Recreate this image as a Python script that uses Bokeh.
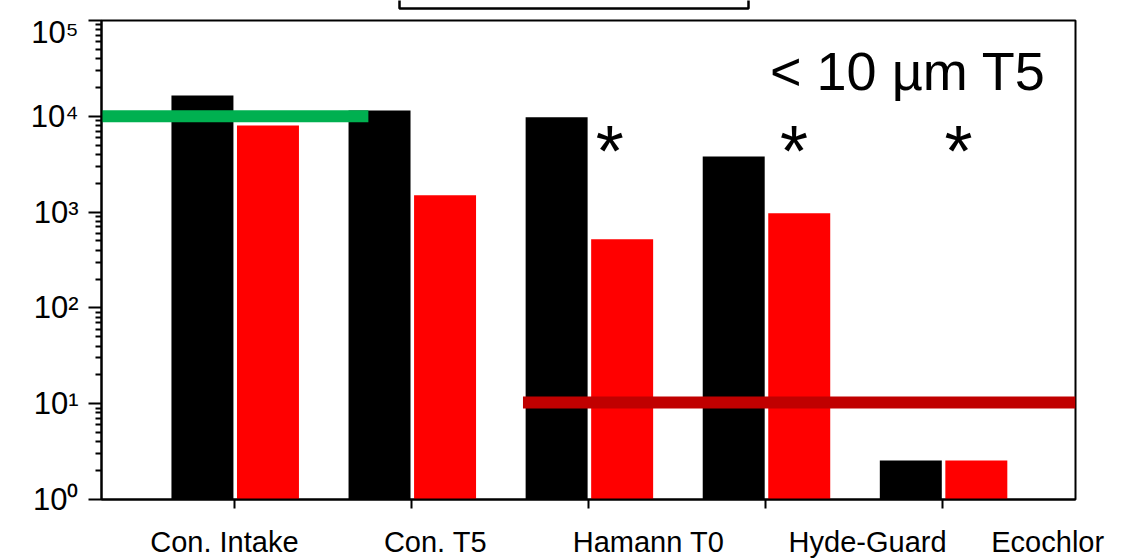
from bokeh.plotting import figure
from bokeh.layouts import column
from bokeh.models import FixedTicker, Range1d
from bokeh.core.properties import value
from bokeh.embed import file_html
from bokeh.resources import INLINE

# ---- data ----
categories = ["Con. Intake", "Con. T5", "Hamann T0", "Hyde-Guard", "Ecochlor"]
black_vals = [16500, 11500, 9800, 3800, 2.55]
red_vals = [8000, 1500, 520, 970, 2.55]
green_level = 10000
green_span = [0.25, 1.757]
red_level = 10.3
red_span = [2.63, 5.75]
star_cats = [3.12, 4.16, 5.09]
star_level = 4300
annotation_text = "< 10 \u00b5m T5"
annotation_level = 29500
y_ticks = [1, 10, 100, 1000, 10000, 100000]
y_tick_labels = ["10\u2070", "10\u00b9", "10\u00b2", "10\u00b3", "10\u2074", "10\u2075"]

# ---- layout ----
FONT = "Liberation Sans"
W, H = 1122, 560
TOP_H = 14
BL, BR = 101, 47
xpos = list(range(1, len(categories) + 1))
label_pos = [0.944, 2.136, 3.339, 4.576, 5.593]

# strip above the chart showing the lower part of a cut-off box
# (its frame is aligned with the main frame, so pixel coords = BL..W-BR)
top = figure(width=W, height=TOP_H, x_range=Range1d(BL, W - BR), y_range=Range1d(0, TOP_H),
             output_backend="svg", toolbar_location=None,
             min_border_left=0, min_border_right=0, min_border_top=0, min_border_bottom=0)
top.axis.visible = False
top.grid.visible = False
top.outline_line_color = None
top.background_fill_color = "white"
top.border_fill_color = "white"
top.quad(left=[399], right=[748], bottom=[TOP_H - 8], top=[TOP_H + 20],
         fill_color="white", line_color="black", line_width=2.5)

p = figure(width=W, height=H - TOP_H, x_range=Range1d(0.25, 5.75),
           y_range=Range1d(1, 1e5), y_axis_type="log",
           output_backend="svg", toolbar_location=None,
           min_border_left=BL, min_border_right=BR,
           min_border_top=20 - TOP_H, min_border_bottom=61)
p.background_fill_color = "white"
p.border_fill_color = "white"
p.outline_line_color = "black"
p.outline_line_width = 2
p.xgrid.visible = False
p.ygrid.visible = False

p.vbar(x=[x - 0.18 for x in xpos], width=0.35, bottom=1, top=black_vals,
       fill_color="black", line_color=None)
p.vbar(x=[x + 0.19 for x in xpos], width=0.35, bottom=1, top=red_vals,
       fill_color="#ff0000", line_color=None)

p.line(x=green_span, y=[green_level, green_level], line_color="#00b050",
       line_width=12, line_cap="butt")
p.line(x=red_span, y=[red_level, red_level], line_color="#c00000",
       line_width=12, line_cap="butt")

p.text(x=star_cats, y=[star_level] * len(star_cats), text=["*"] * len(star_cats),
       text_font=value(FONT), text_font_size="72px", text_align="center",
       text_baseline="alphabetic", text_color="black")
p.text(x=[5.582], y=[annotation_level], text=[annotation_text], text_font=value(FONT),
       text_font_size="54px", text_align="right", text_baseline="alphabetic",
       text_color="black")

# y axis
ya = p.yaxis[0]
ya.ticker = FixedTicker(ticks=y_ticks,
                        minor_ticks=[m * 10 ** k for k in range(5) for m in range(2, 10)])
ya.major_label_overrides = {t: l for t, l in zip(y_ticks, y_tick_labels)}
ya.major_label_text_font = FONT
ya.major_label_text_font_size = "31px"
ya.major_label_text_color = "black"
ya.major_tick_out = 13
ya.major_tick_in = 0
ya.minor_tick_out = 6
ya.minor_tick_in = 0
ya.axis_line_width = 2
ya.major_tick_line_width = 2
ya.minor_tick_line_width = 2
ya.major_label_standoff = 10

# x axis
xa = p.xaxis[0]
xa.ticker = FixedTicker(ticks=label_pos, minor_ticks=xpos)
xa.major_label_overrides = {t: c for t, c in zip(label_pos, categories)}
xa.major_label_text_font = FONT
xa.major_label_text_font_size = "29px"
xa.major_label_text_color = "black"
xa.major_tick_out = 0
xa.major_tick_in = 0
xa.minor_tick_out = 9
xa.minor_tick_in = 0
xa.minor_tick_line_width = 2
xa.axis_line_width = 2
xa.major_label_standoff = 17

layout = column(top, p, spacing=0)
open("out.html", "w").write(file_html(layout, INLINE))
